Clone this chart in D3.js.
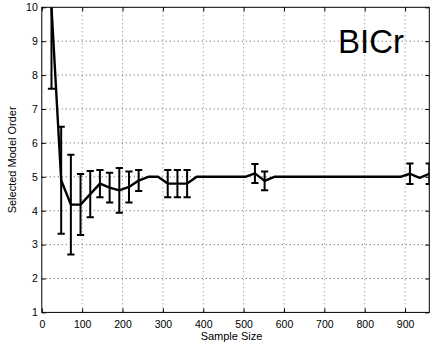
<!DOCTYPE html>
<html>
<head>
<meta charset="utf-8">
<script src="https://cdn.jsdelivr.net/npm/d3@7/dist/d3.min.js"></script>
<style>
  html, body { margin: 0; padding: 0; background: #fff; }
  svg { display: block; font-family: "Liberation Sans", Arial, Helvetica, sans-serif; }
</style>
</head>
<body>
<svg id="chart" width="430" height="347"></svg>
<script>
// sample sizes (x)
const sampleSizes = [24, 48, 72, 96, 120, 144, 168, 192, 216, 240,
  264, 288, 312, 336, 360, 384, 408, 432, 456, 480,
  504, 528, 552, 576, 600, 624, 648, 672, 696, 720,
  744, 768, 792, 816, 840, 864, 888, 912, 936, 960];

// mean selected order
const meanOrder = [10, 4.9, 4.18, 4.18, 4.49, 4.8, 4.68, 4.6, 4.7, 4.89,
  5, 5, 4.8, 4.8, 4.8, 5, 5, 5, 5, 5,
  5, 5.1, 4.88, 5, 5, 5, 5, 5, 5, 5,
  5, 5, 5, 5, 5, 5, 5, 5.09, 4.97, 5.09];

// half length of error bars
const errOrder = [2.4, 1.58, 1.47, 0.9, 0.68, 0.4, 0.44, 0.66, 0.46, 0.31,
  0, 0, 0.4, 0.4, 0.4, 0, 0, 0, 0, 0,
  0, 0.28, 0.28, 0, 0, 0, 0, 0, 0, 0,
  0, 0, 0, 0, 0, 0, 0, 0.3, 0, 0.3];

const xTicks = [0, 100, 200, 300, 400, 500, 600, 700, 800, 900];
const yTicks = [1, 2, 3, 4, 5, 6, 7, 8, 9, 10];

const data = sampleSizes.map((s, i) => ({ n: s, m: meanOrder[i], e: errOrder[i] }));

const svg = d3.select('#chart');
const margin = { top: 7.3, right: 0.7, bottom: 34.6, left: 41.8 };
const width = 430 - margin.left - margin.right;
const height = 347 - margin.top - margin.bottom;

const g = svg.append('g')
  .attr('transform', `translate(${margin.left},${margin.top})`);

const x = d3.scaleLinear().domain([0, 960]).range([0, width]);
const y = d3.scaleLinear().domain([1, 10]).range([height, 0]);

svg.append('defs').append('clipPath')
  .attr('id', 'plot-clip')
  .append('rect')
  .attr('width', width)
  .attr('height', height);

// dotted grid
g.append('g')
  .selectAll('line')
  .data(xTicks.slice(1))
  .join('line')
  .attr('x1', d => x(d)).attr('x2', d => x(d))
  .attr('y1', 0).attr('y2', height)
  .attr('stroke', '#666')
  .attr('stroke-width', 0.8)
  .attr('stroke-dasharray', '1,3');

g.append('g')
  .selectAll('line')
  .data(yTicks.slice(1, -1))
  .join('line')
  .attr('x1', 0).attr('x2', width)
  .attr('y1', d => y(d)).attr('y2', d => y(d))
  .attr('stroke', '#333')
  .attr('stroke-width', 0.8)
  .attr('stroke-dasharray', '1,3');

// axes, ticks inward (matlab style)
const tickLen = 4;
g.append('g')
  .attr('transform', `translate(0,${height})`)
  .call(d3.axisBottom(x).tickValues(xTicks).tickSize(-tickLen).tickPadding(8))
  .call(a => a.select('.domain').remove());

g.append('g')
  .call(d3.axisTop(x).tickValues(xTicks).tickSize(-tickLen).tickFormat(''))
  .call(a => a.select('.domain').remove());

g.append('g')
  .call(d3.axisLeft(y).tickValues(yTicks).tickSize(-tickLen).tickPadding(4))
  .call(a => a.select('.domain').remove());

g.append('g')
  .attr('transform', `translate(${width},0)`)
  .call(d3.axisRight(y).tickValues(yTicks).tickSize(-tickLen).tickFormat(''))
  .call(a => a.select('.domain').remove());

g.selectAll('.tick text')
  .attr('fill', '#000')
  .style('font-size', '10.5px');
g.selectAll('.tick line').attr('stroke', '#000');

// frame
g.append('rect')
  .attr('width', width)
  .attr('height', height)
  .attr('fill', 'none')
  .attr('stroke', '#000')
  .attr('stroke-width', 1);

const plot = g.append('g').attr('clip-path', 'url(#plot-clip)');

// error bars
const bars = plot.append('g')
  .selectAll('g')
  .data(data.filter(d => d.e > 0))
  .join('g')
  .attr('stroke', '#000')
  .attr('stroke-width', 2);

const cap = 3.6;
bars.append('line')
  .attr('x1', d => x(d.n)).attr('x2', d => x(d.n))
  .attr('y1', d => y(d.m - d.e)).attr('y2', d => y(d.m + d.e));
bars.append('line')
  .attr('x1', d => x(d.n) - cap).attr('x2', d => x(d.n) + cap)
  .attr('y1', d => y(d.m - d.e)).attr('y2', d => y(d.m - d.e));
bars.append('line')
  .attr('x1', d => x(d.n) - cap).attr('x2', d => x(d.n) + cap)
  .attr('y1', d => y(d.m + d.e)).attr('y2', d => y(d.m + d.e));

// mean line
const line = d3.line()
  .x(d => x(d.n))
  .y(d => y(d.m));

plot.append('path')
  .datum(data)
  .attr('fill', 'none')
  .attr('stroke', '#000')
  .attr('stroke-width', 2.4)
  .attr('stroke-linejoin', 'round')
  .attr('d', line);

// labels
svg.append('text')
  .attr('x', margin.left + x(470))
  .attr('y', 340)
  .attr('text-anchor', 'middle')
  .style('font-size', '11px')
  .text('Sample Size');

svg.append('text')
  .attr('transform', `translate(16,${margin.top + y(5.5)}) rotate(-90)`)
  .attr('text-anchor', 'middle')
  .style('font-size', '11px')
  .text('Selected Model Order');

svg.append('text')
  .attr('x', 338)
  .attr('y', 53)
  .style('font-size', '33px')
  .text('BICr');
</script>
</body>
</html>
